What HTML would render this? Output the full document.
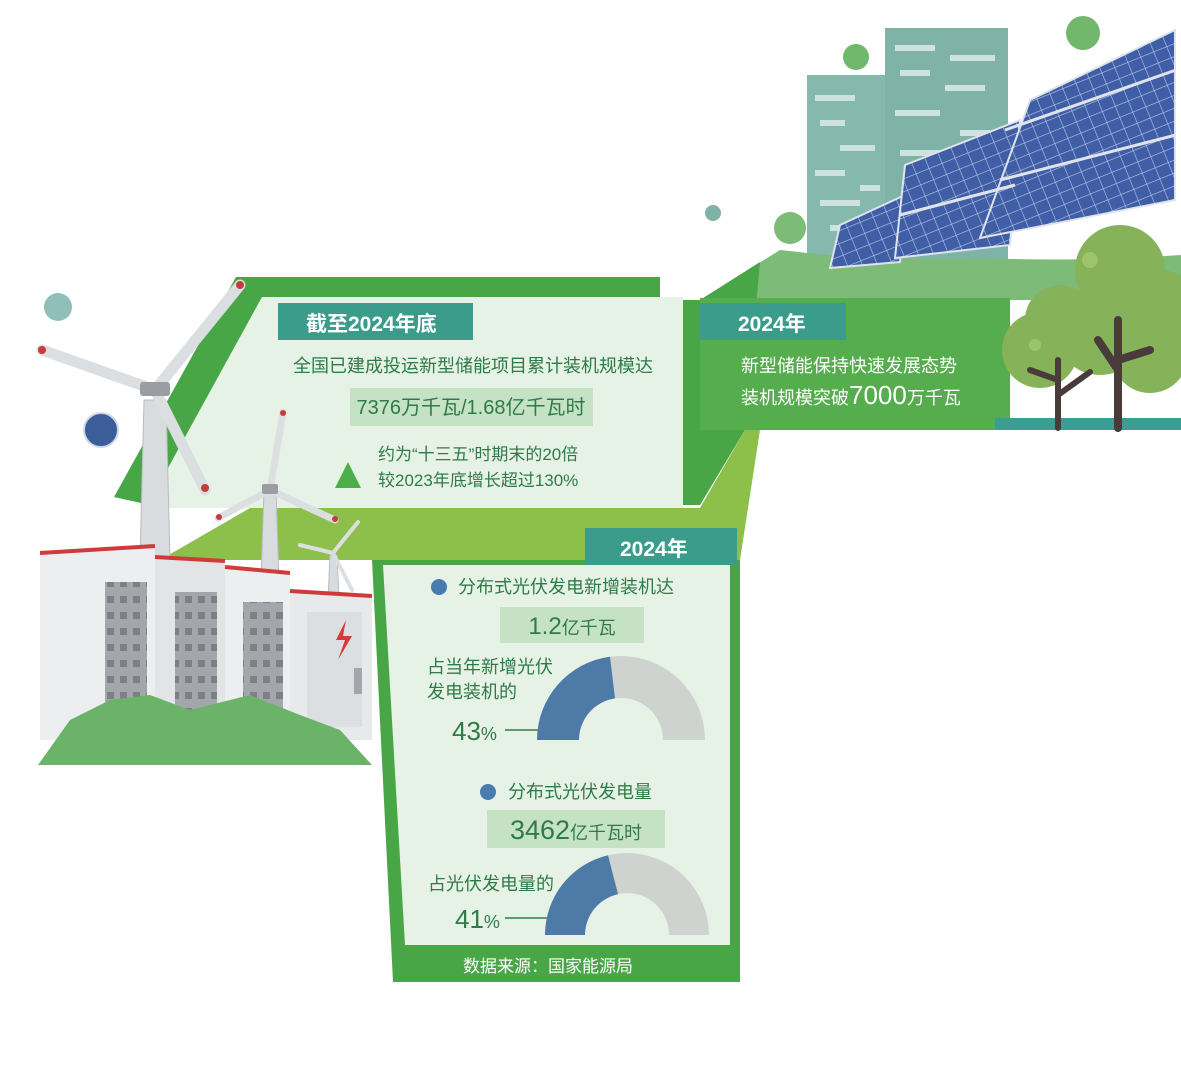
<!DOCTYPE html>
<html><head><meta charset="utf-8">
<style>
html,body{margin:0;padding:0;background:#fff;}
svg{display:block;}
text{font-family:"Liberation Sans","Noto Sans CJK SC",sans-serif;}
</style></head>
<body>
<svg width="1181" height="1090" viewBox="0 0 1181 1090" xmlns="http://www.w3.org/2000/svg">
<defs>
<pattern id="grid" width="14" height="12" patternUnits="userSpaceOnUse" patternTransform="rotate(-22)">
<rect width="14" height="12" fill="#3f5ea6"/>
<path d="M0 0H14M0 0V12" stroke="#b9c6e6" stroke-width="1.2"/>
</pattern>
<pattern id="win" width="13" height="16" patternUnits="userSpaceOnUse">
<rect width="13" height="16" fill="#a3a7ac"/>
<rect x="3" y="4" width="7" height="7" fill="#7d8186"/>
</pattern>
</defs>

<circle cx="1083" cy="33" r="17" fill="#72b86c"/>
<circle cx="856" cy="57" r="13" fill="#72b86c"/>
<circle cx="713" cy="213" r="8" fill="#7fb3a8"/>
<circle cx="790" cy="228" r="16" fill="#7dbb78"/>
<rect x="807" y="75" width="80" height="190" fill="#86b9ae"/>
<rect x="885" y="28" width="123" height="237" fill="#7fb3a8"/>
<g fill="#cfe3de">
<rect x="895" y="45" width="40" height="6"/><rect x="950" y="55" width="45" height="6"/>
<rect x="900" y="70" width="30" height="6"/><rect x="945" y="85" width="40" height="6"/>
<rect x="815" y="95" width="40" height="6"/><rect x="895" y="110" width="45" height="6"/>
<rect x="820" y="120" width="25" height="6"/><rect x="960" y="130" width="30" height="6"/>
<rect x="840" y="145" width="35" height="6"/><rect x="900" y="150" width="40" height="6"/>
<rect x="815" y="170" width="30" height="6"/><rect x="860" y="185" width="20" height="6"/>
<rect x="820" y="200" width="40" height="6"/><rect x="830" y="225" width="30" height="6"/>
</g>
<path d="M700 300 L780 250 Q880 262 980 258 Q1080 262 1181 255 L1181 300 Z" fill="#7dbb78"/>
<polygon points="840,225 905,195 900,262 830,268" fill="url(#grid)" stroke="#dfe4ec" stroke-width="2"/>
<polygon points="905,165 1020,120 1010,245 895,258" fill="url(#grid)" stroke="#dfe4ec" stroke-width="2"/>
<polygon points="1030,100 1175,30 1175,200 980,238" fill="url(#grid)" stroke="#dfe4ec" stroke-width="2"/>
<line x1="1000" y1="180" x2="1176" y2="135" stroke="#dfe4ec" stroke-width="3"/>
<line x1="1005" y1="130" x2="1176" y2="70" stroke="#dfe4ec" stroke-width="3"/>
<line x1="900" y1="215" x2="1015" y2="185" stroke="#dfe4ec" stroke-width="3"/>

<polygon points="236,277 660,277 660,300 700,300 760,262 745,430 700,505 150,505 114,497" fill="#49a647"/>
<rect x="700" y="298" width="310" height="132" fill="#55ad4e"/>
<rect x="700" y="303" width="146" height="37" fill="#3b9c8c"/>
<text x="738" y="331" font-size="21" font-weight="bold" fill="#fff">2024年</text>
<text x="741" y="372" font-size="18" fill="#fff">新型储能保持快速发展态势</text>
<text x="741" y="404" font-size="18" fill="#fff">装机规模突破<tspan font-size="26">7000</tspan>万千瓦</text>

<rect x="995" y="418" width="186" height="12" fill="#3a9e92"/>
<g fill="#86b35a">
<circle cx="1120" cy="270" r="45"/><circle cx="1160" cy="310" r="40"/><circle cx="1060" cy="320" r="35"/>
<circle cx="1040" cy="350" r="38"/><circle cx="1100" cy="330" r="45"/><circle cx="1150" cy="355" r="38"/>
</g>
<g fill="#9dc46a"><circle cx="1090" cy="260" r="8"/><circle cx="1035" cy="345" r="6"/></g>
<g stroke="#4a3b3b" stroke-linecap="round" fill="none">
<path d="M1058 428 L1058 360 M1058 380 L1030 370 M1058 395 L1090 372" stroke-width="6"/>
<path d="M1118 428 L1118 320 M1118 360 L1150 350 M1118 370 L1098 340" stroke-width="8"/>
</g>

<polygon points="262,297 683,297 683,508 146,508" fill="#e6f2e6"/>
<rect x="278" y="303" width="195" height="37" fill="#3b9c8c"/>
<text x="306" y="331" font-size="21" font-weight="bold" fill="#fff">截至2024年底</text>
<text x="473" y="372" font-size="18" fill="#2e7b48" text-anchor="middle">全国已建成投运新型储能项目累计装机规模达</text>
<rect x="350" y="388" width="243" height="38" fill="#c6e2c4"/>
<text x="471" y="414" font-size="20" fill="#2e7b48" text-anchor="middle">7376万千瓦/1.68亿千瓦时</text>
<polygon points="335,488 361,488 348,462" fill="#4caf4a"/>
<text x="378" y="460" font-size="17" fill="#2e7b48">约为“十三五”时期末的20倍</text>
<text x="378" y="486" font-size="17" fill="#2e7b48">较2023年底增长超过130%</text>

<polygon points="160,560 250,508 700,508 745,430 760,430 740,560" fill="#8cc04b"/>

<polygon points="372,560 740,560 740,982 393,982" fill="#49a647"/>
<polygon points="383,565 730,565 730,945 405,945" fill="#e6f2e6"/>
<rect x="585" y="528" width="152" height="37" fill="#3b9c8c"/>
<text x="620" y="556" font-size="21" font-weight="bold" fill="#fff">2024年</text>
<circle cx="439" cy="587" r="8" fill="#4a7bb0"/>
<text x="458" y="593" font-size="18" fill="#2e7b48">分布式光伏发电新增装机达</text>
<rect x="500" y="607" width="144" height="36" fill="#c6e2c4"/>
<text x="572" y="634" font-size="24" fill="#2e7b48" text-anchor="middle">1.2<tspan font-size="18">亿千瓦</tspan></text>
<text x="427" y="673" font-size="18" fill="#2e7b48">占当年新增光伏</text>
<text x="427" y="698" font-size="18" fill="#2e7b48">发电装机的</text>
<text x="452" y="740" font-size="26" fill="#2e7b48">43<tspan font-size="18">%</tspan></text>
<line x1="505" y1="730" x2="552" y2="730" stroke="#2e7b48" stroke-width="1.5"/>
<path d="M537 740 A84 84 0 0 1 705 740 L663 740 A42 42 0 0 0 579 740 Z" fill="#cfd3cf"/>
<path d="M537 740 A84 84 0 0 1 610 656.7 L615 698.4 A42 42 0 0 0 579 740 Z" fill="#4d7aa6"/>

<circle cx="488" cy="792" r="8" fill="#4a7bb0"/>
<text x="508" y="798" font-size="18" fill="#2e7b48">分布式光伏发电量</text>
<rect x="487" y="810" width="178" height="38" fill="#c6e2c4"/>
<text x="576" y="839" font-size="27" fill="#2e7b48" text-anchor="middle">3462<tspan font-size="18">亿千瓦时</tspan></text>
<text x="428" y="890" font-size="18" fill="#2e7b48">占光伏发电量的</text>
<text x="455" y="928" font-size="26" fill="#2e7b48">41<tspan font-size="18">%</tspan></text>
<line x1="505" y1="918" x2="552" y2="918" stroke="#2e7b48" stroke-width="1.5"/>
<path d="M545 935 A82 82 0 0 1 709 935 L669 935 A42 42 0 0 0 585 935 Z" fill="#cfd3cf"/>
<path d="M545 935 A82 82 0 0 1 608 855.2 L618 894.2 A42 42 0 0 0 585 935 Z" fill="#4d7aa6"/>
<text x="548" y="972" font-size="17" fill="#fff" text-anchor="middle">数据来源：国家能源局</text>

<circle cx="58" cy="307" r="14" fill="#8fbfb8"/>
<circle cx="101" cy="430" r="17" fill="#3b5e9a" stroke="#cfd8e6" stroke-width="2"/>

<g fill="#d9dcdf" stroke="#b8bcc0" stroke-width="1">
<polygon points="144,400 166,400 170,560 140,560"/>
<polygon points="264,490 276,490 279,580 261,580"/>
<polygon points="330,555 337,555 339,600 328,600"/>
</g>
<g stroke="#dcdfe2" stroke-linecap="round">
<path d="M155 390 L240 285 M155 390 L42 350 M155 390 L205 490" stroke-width="11"/>
<path d="M270 490 L283 412 M270 490 L218 518 M270 490 L335 520" stroke-width="7"/>
<path d="M333 553 L358 522 M333 553 L300 545 M333 553 L352 590" stroke-width="4"/>
</g>
<g fill="#c93b3b"><circle cx="240" cy="285" r="4"/><circle cx="42" cy="350" r="4"/><circle cx="205" cy="488" r="4"/><circle cx="283" cy="413" r="3"/><circle cx="335" cy="519" r="3"/><circle cx="219" cy="517" r="3"/></g>
<rect x="140" y="382" width="30" height="14" rx="3" fill="#9a9ea3"/>
<rect x="262" y="484" width="16" height="10" rx="2" fill="#9a9ea3"/>

<polygon points="40,555 155,548 155,740 40,740" fill="#eceeef"/>
<polygon points="155,558 225,562 225,740 155,740" fill="#e2e4e6"/>
<polygon points="225,568 290,574 290,740 225,740" fill="#eceeef"/>
<polygon points="290,592 372,596 372,740 290,740" fill="#e7e9eb"/>
<g stroke="#cf3a3a" stroke-width="4"><line x1="40" y1="553" x2="155" y2="546"/><line x1="155" y1="557" x2="225" y2="561"/><line x1="225" y1="567" x2="290" y2="573"/><line x1="290" y1="591" x2="372" y2="596"/></g>
<rect x="105" y="582" width="42" height="140" fill="url(#win)"/>
<rect x="175" y="592" width="42" height="130" fill="url(#win)"/>
<rect x="243" y="602" width="40" height="120" fill="url(#win)"/>
<rect x="307" y="612" width="55" height="115" fill="#dcdfe2"/>
<path d="M346 620 L336 640 L345 640 L338 660 L352 636 L343 636 Z" fill="#d83a3a"/>
<rect x="354" y="668" width="8" height="26" fill="#a3a7ac"/>
<path d="M38 765 L70 720 L110 700 L150 695 L190 710 L250 695 L300 715 L340 730 L372 765 Z" fill="#6cb36a"/>
</svg>
</body></html>
